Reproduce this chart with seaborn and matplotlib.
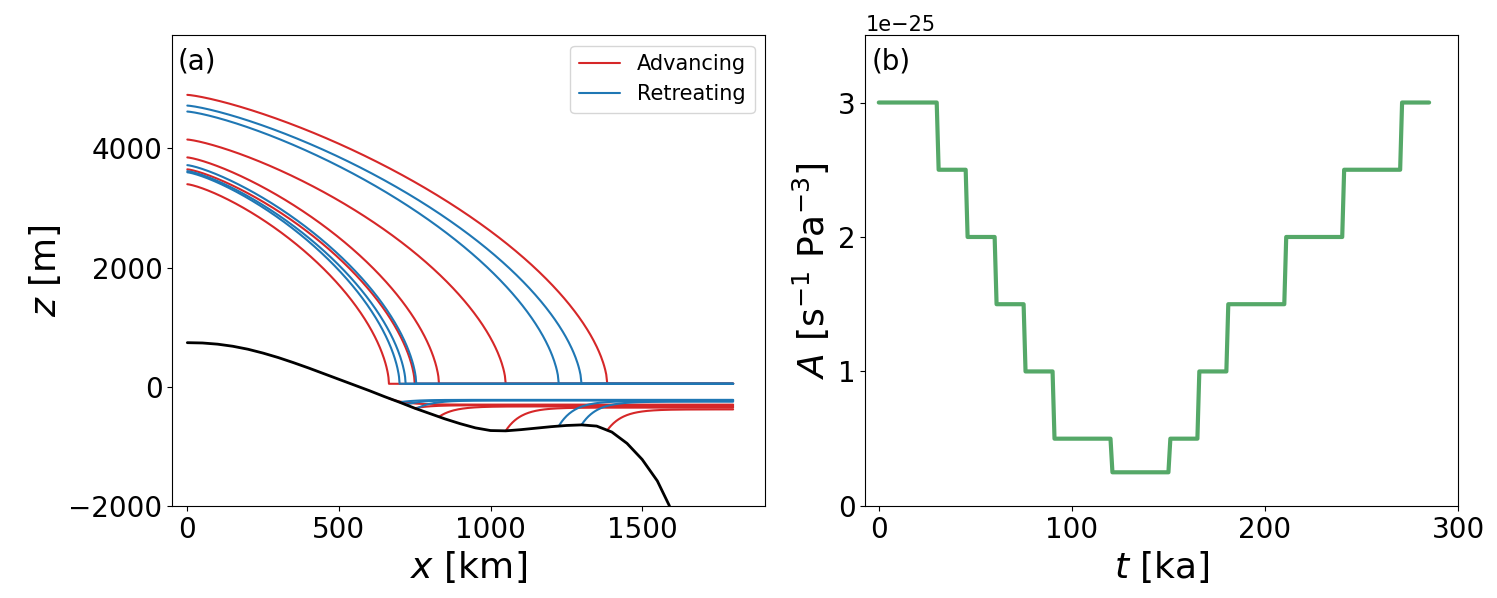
import numpy as np
import matplotlib
matplotlib.use("Agg")
import matplotlib.pyplot as plt
import seaborn as sns

sns.set_style("ticks")
plt.rcParams['font.family'] = ['DejaVu Sans']
plt.rcParams['text.color'] = 'black'
plt.rcParams['axes.labelcolor'] = 'black'
plt.rcParams['xtick.color'] = 'black'
plt.rcParams['ytick.color'] = 'black'
plt.rcParams['axes.edgecolor'] = 'black'

# bed elevation (km, m)
bed_x = [0, 50, 100, 150, 200, 250, 300, 350, 400, 450, 500, 550, 600, 650, 700, 750, 800, 850, 900, 950, 1000,
         1050, 1100, 1150, 1200, 1250, 1300, 1350, 1400, 1450, 1500, 1550, 1590]
bed_z = [740, 735, 715, 680, 630, 565, 490, 405, 315, 220, 125, 30, -65, -165, -260, -360, -450, -540, -620, -690, -735,
         -740, -720, -695, -670, -650, -640, -660, -760, -950, -1220, -1580, -2000]

# advancing / retreating profiles: divide height, grounding line, shelf base
adv_H = [4900, 4150, 3850, 3650, 3400]
adv_xg = [1385, 1050, 830, 750, 665]
adv_base = [-380, -350, -330, -310, -300]
ret_H = [4720, 4620, 3720, 3620, 3600]
ret_xg = [1300, 1225, 755, 720, 700]
ret_base = [-250, -240, -230, -225, -220]
shelf_top = 50
x_end = 1800

# rate factor steps (ka, 1e-25 units)
t_ka = [0, 30, 31, 45, 46, 60, 61, 75, 76, 90, 91, 120, 121, 150, 151, 165, 166, 180, 181, 210, 211, 240, 241, 270, 271, 285]
A_val = [3, 3, 2.5, 2.5, 2, 2, 1.5, 1.5, 1, 1, 0.5, 0.5, 0.25, 0.25, 0.5, 0.5, 1, 1, 1.5, 1.5, 2, 2, 2.5, 2.5, 3, 3]

fig = plt.figure(figsize=(14.97, 5.98), dpi=100)
ax1 = fig.add_axes([0.115, 0.154, 0.396, 0.787])
ax2 = fig.add_axes([0.578, 0.154, 0.396, 0.787])

red, blue = '#d62728', '#1f77b4'

def profile(ax, H, xg, base, color, label):
    zb = np.interp(xg, bed_x, bed_z)
    xs = np.linspace(0, xg, 400)
    zs = shelf_top + (H - shelf_top) * np.clip(1 - (xs / xg) ** 1.3, 0, None) ** 0.6
    xf = np.linspace(xg, x_end, 200)
    ax.plot(np.r_[xs, xf], np.r_[zs, np.full_like(xf, shelf_top)], color=color, lw=1.5, label=label)
    zl = base + (zb - base) * np.exp(-(xf - xg) / 50)
    ax.plot(xf, zl, color=color, lw=1.5)

for i in range(len(adv_H)):
    profile(ax1, adv_H[i], adv_xg[i], adv_base[i], red, 'Advancing' if i == 0 else None)
for i in range(len(ret_H)):
    profile(ax1, ret_H[i], ret_xg[i], ret_base[i], blue, 'Retreating' if i == 0 else None)
ax1.plot(bed_x, bed_z, color='black', lw=2)

ax1.set_xlim(-50, 1905)
ax1.set_ylim(-2000, 5900)
ax1.set_xticks([0, 500, 1000, 1500])
ax1.set_yticks([-2000, 0, 2000, 4000])
ax1.tick_params(labelsize=20)
ax1.set_xlabel(r'$x$ [km]', fontsize=26)
ax1.set_ylabel(r'$z$ [m]', fontsize=26)
ax1.text(0.01, 0.975, '(a)', transform=ax1.transAxes, fontsize=20, va='top')
ax1.legend(fontsize=15, loc='upper right')

sns.lineplot(x=t_ka, y=np.array(A_val) * 1e-25, ax=ax2, color='#55a868', lw=3, sort=False)
ax2.set_xlim(-7, 300)
ax2.set_ylim(0, 3.5e-25)
ax2.set_xticks([0, 100, 200, 300])
ax2.set_yticks([0, 1e-25, 2e-25, 3e-25])
ax2.tick_params(labelsize=20)
ax2.yaxis.get_offset_text().set_fontsize(15)
ax2.set_xlabel(r'$t$ [ka]', fontsize=26)
ax2.set_ylabel(r'$A$ [s$^{-1}$ Pa$^{-3}$]', fontsize=26)
ax2.text(0.01, 0.975, '(b)', transform=ax2.transAxes, fontsize=20, va='top')

fig.savefig('out.png', dpi=100)
